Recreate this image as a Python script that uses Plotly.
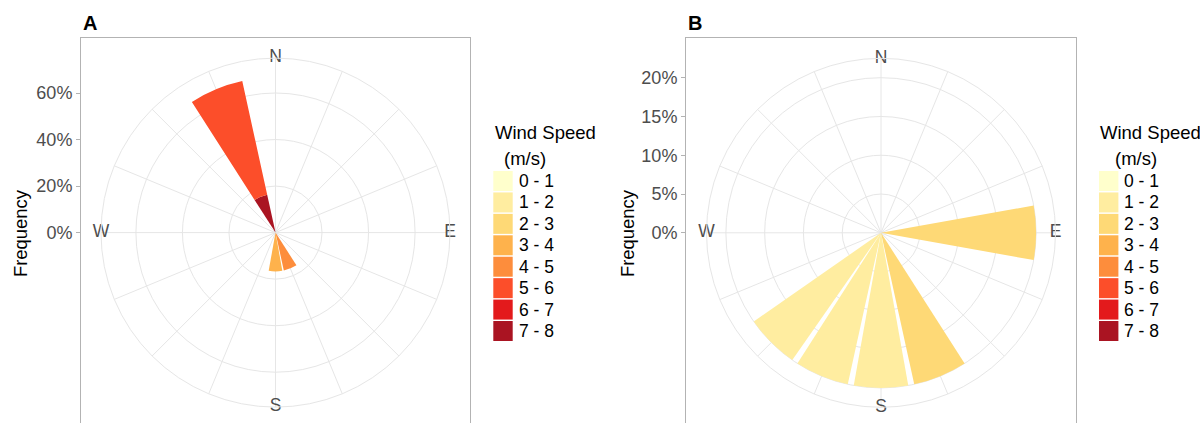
import plotly.graph_objects as go

# ---- data -------------------------------------------------------------
directions = ["N", "NNE", "NE", "ENE", "E", "ESE", "SE", "SSE",
              "S", "SSW", "SW", "WSW", "W", "WNW", "NW", "NNW"]
speed_bins = ["0 - 1", "1 - 2", "2 - 3", "3 - 4", "4 - 5", "5 - 6", "6 - 7", "7 - 8"]
speed_colors = ["#FFFFCC", "#FFEDA0", "#FED976", "#FEB24C",
                "#FD8D3C", "#FC4E2A", "#E31A1C", "#AA1422"]

# panel A: frequency (%) per direction and speed bin
a_direction = ["NNW", "NNW", "S", "SSE"]
a_speed = ["7 - 8", "5 - 6", "3 - 4", "4 - 5"]
a_freq = [16.67, 50.0, 16.67, 16.67]
a_ticks = [0, 20, 40, 60]

# panel B
b_direction = ["E", "SSE", "S", "SSW", "SW"]
b_speed = ["2 - 3", "2 - 3", "1 - 2", "1 - 2", "1 - 2"]
b_freq = [20.0, 20.0, 20.0, 20.0, 20.0]
b_ticks = [0, 5, 10, 15, 20]

compass = ["N", "E", "S", "W"]

# ---- layout constants (pixels) -----------------------------------------
W, H = 1200, 423
FONT = "Liberation Sans, Arial, Helvetica, sans-serif"
GRID = "#E6E6E6"
BORDER = "#B3B3B3"
TXT = "#4D4D4D"
R_PX = 174.5          # radius of the outer ring
BAR_WIDTH = 22.5 * 0.9


def px_x(x):
    return x / W


def px_y(y):
    return 1 - y / H


panels = [
    dict(name="A", dirs=a_direction, speeds=a_speed, freq=a_freq, ticks=a_ticks,
         cx=275.5, cy=232.6, box=(81, 470, 38.3), polar="polar", xa="x", ya="y",
         ytitle_x=20, tag_x=80.5, leg_x=493.3, leg_lab=516.5, leg_title=493, leg_unit=502),
    dict(name="B", dirs=b_direction, speeds=b_speed, freq=b_freq, ticks=b_ticks,
         cx=881, cy=232.8, box=(686, 1075.7, 38.3), polar="polar2", xa="x2", ya="y2",
         ytitle_x=627, tag_x=686, leg_x=1099, leg_lab=1122, leg_title=1098, leg_unit=1113),
]

fig = go.Figure()
layout = dict(
    width=W, height=H, margin=dict(l=0, r=0, t=0, b=0),
    paper_bgcolor="white", plot_bgcolor="rgba(0,0,0,0)",
    showlegend=False, font=dict(family=FONT, color="black"),
)
annotations = []
shapes = []

for p in panels:
    total = {}
    for d, f in zip(p["dirs"], p["freq"]):
        total[d] = total.get(d, 0) + f
    rmax = max(total.values()) * 0.45 / 0.4   # outer ring sits beyond the longest bar

    # stacked bars: last speed bin innermost
    for sb, col in reversed(list(zip(speed_bins, speed_colors))):
        th, rr = [], []
        for d, s, f in zip(p["dirs"], p["speeds"], p["freq"]):
            if s == sb:
                th.append(directions.index(d) * 22.5)
                rr.append(f)
        if th:
            fig.add_trace(go.Barpolar(
                r=rr, theta=th, width=[BAR_WIDTH] * len(th), name=sb,
                marker=dict(color=col, line=dict(width=0)),
                subplot=p["polar"], hoverinfo="skip"))

    # compass labels on the outer ring
    fig.add_trace(go.Scatterpolar(
        r=[rmax] * 4, theta=[directions.index(c) * 22.5 for c in compass],
        mode="text", text=compass, textposition="middle center",
        textfont=dict(size=17.5, color=TXT, family=FONT),
        cliponaxis=False, subplot=p["polar"], hoverinfo="skip"))

    cx, cy = p["cx"], p["cy"]
    layout[p["polar"]] = dict(
        domain=dict(x=[px_x(cx - R_PX), px_x(cx + R_PX)],
                    y=[px_y(cy + R_PX), px_y(cy - R_PX)]),
        bgcolor="rgba(0,0,0,0)", barmode="stack", bargap=0,
        radialaxis=dict(range=[0, rmax], tickvals=p["ticks"][1:], showticklabels=False,
                        ticks="", showline=False, gridcolor=GRID, gridwidth=1),
        angularaxis=dict(rotation=90, direction="clockwise", thetaunit="degrees",
                         tickmode="array", tickvals=[i * 22.5 for i in range(16)],
                         showticklabels=False, ticks="", showline=True,
                         linecolor=GRID, linewidth=1, gridcolor=GRID, gridwidth=1),
    )

    # cartesian frame carrying the radial scale on the left
    x0, x1, top = p["box"]
    k = R_PX / rmax
    fig.add_trace(go.Scatter(x=[None], y=[None], xaxis=p["xa"], yaxis=p["ya"],
                             hoverinfo="skip", showlegend=False))
    xkey = "xaxis" if p["xa"] == "x" else "xaxis2"
    ykey = "yaxis" if p["ya"] == "y" else "yaxis2"
    layout[xkey] = dict(domain=[px_x(x0), px_x(x1)], range=[0, 1], anchor=p["ya"],
                        side="top", showline=True, linecolor=BORDER, linewidth=1,
                        showgrid=False, zeroline=False, showticklabels=False,
                        ticks="", fixedrange=True)
    layout[ykey] = dict(domain=[0, px_y(top)], anchor=p["xa"],
                        range=[-(H - cy) / k, (cy - top) / k],
                        tickmode="array", tickvals=p["ticks"],
                        ticktext=[f"{t}%" for t in p["ticks"]],
                        ticks="outside", ticklen=4, tickwidth=1, tickcolor=BORDER,
                        tickfont=dict(size=18, color=TXT, family=FONT),
                        showline=True, mirror=True, linecolor=BORDER, linewidth=1,
                        showgrid=False, zeroline=False, fixedrange=True)

    # axis title and panel tag
    annotations.append(dict(text="Frequency", x=px_x(p["ytitle_x"]), y=px_y(233),
                            xref="paper", yref="paper", textangle=-90, showarrow=False,
                            xanchor="center", yanchor="middle",
                            font=dict(size=18.4, color="black", family=FONT)))
    annotations.append(dict(text=f"<b>{p['name']}</b>", x=px_x(p["tag_x"]), y=px_y(23),
                            xref="paper", yref="paper", showarrow=False,
                            xanchor="left", yanchor="middle",
                            font=dict(size=20, color="black", family=FONT)))

    # speed legend
    annotations.append(dict(text="Wind Speed", x=px_x(p["leg_title"]), y=px_y(132.5),
                            xref="paper", yref="paper", showarrow=False,
                            xanchor="left", yanchor="middle",
                            font=dict(size=18.5, color="black", family=FONT)))
    annotations.append(dict(text="(m/s)", x=px_x(p["leg_unit"]), y=px_y(158),
                            xref="paper", yref="paper", showarrow=False,
                            xanchor="left", yanchor="middle",
                            font=dict(size=18.5, color="black", family=FONT)))
    pitch = 21.43
    for i, (sb, col) in enumerate(zip(speed_bins, speed_colors)):
        y_top = 171 + i * pitch
        shapes.append(dict(type="rect", xref="paper", yref="paper",
                           x0=px_x(p["leg_x"]), x1=px_x(p["leg_x"] + 19.4),
                           y0=px_y(y_top + 20), y1=px_y(y_top),
                           fillcolor=col, line=dict(width=0)))
        annotations.append(dict(text=sb, x=px_x(p["leg_lab"]), y=px_y(y_top + 10),
                                xref="paper", yref="paper", showarrow=False,
                                xanchor="left", yanchor="middle",
                                font=dict(size=17.5, color="black", family=FONT)))

layout["annotations"] = annotations
layout["shapes"] = shapes
fig.update_layout(**layout)
fig.write_html("out.html")
